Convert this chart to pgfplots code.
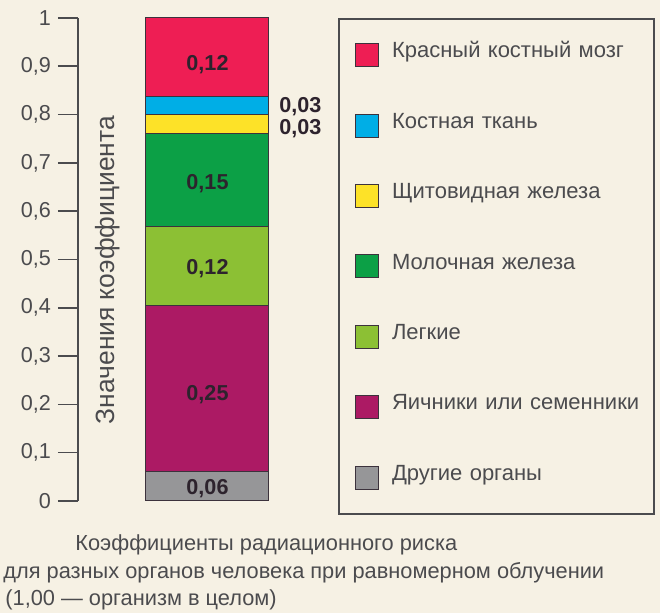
\documentclass[border=0pt]{standalone}
\usepackage{fontspec}
\setmainfont{Liberation Sans}
\usepackage{pgfplots}
\pgfplotsset{compat=1.18}

\definecolor{paper}{RGB}{246,241,228}
\definecolor{cRed}{RGB}{238,30,84}
\definecolor{cBlue}{RGB}{0,174,230}
\definecolor{cYellow}{RGB}{253,226,40}
\definecolor{cGreen}{RGB}{12,160,70}
\definecolor{cLight}{RGB}{140,192,52}
\definecolor{cPurple}{RGB}{172,26,100}
\definecolor{cGray}{RGB}{150,150,152}
\definecolor{inkc}{RGB}{75,75,78}
\definecolor{segline}{RGB}{60,50,60}
\definecolor{labc}{RGB}{45,35,45}

\tikzset{
  vlab/.style={font=\bfseries\fontsize{10.8}{12}\selectfont, text=labc, inner sep=0pt, text depth=0pt},
  capt/.style={anchor=base west, inner sep=0pt, font=\fontsize{10.9}{13}\selectfont, text=inkc},
}

\begin{document}
\begin{tikzpicture}[x=1pt,y=1pt]
\fill[paper] (0,0) rectangle (330,306.5);
\useasboundingbox (0,0) rectangle (330,306.5);
\begin{axis}[
    at={(39pt,56pt)}, anchor=south west,
    width=111pt, height=241.5pt,
    scale only axis,
    xmin=0, xmax=222,
    ymin=0, ymax=1,
    clip=false,
    axis x line=none,
    axis y line*=left,
    y axis line style={inkc, line width=0.8pt},
    ytick={0,0.1,...,1},
    tick align=outside,
    major tick length=10pt,
    ytick style={inkc, line width=0.8pt},
    yticklabel style={font=\fontsize{10.8}{12}\selectfont, text=inkc},
    /pgf/number format/use comma,
    /pgf/number format/assume math mode=true,
    ybar stacked,
    bar width=61.5pt,
    legend image code/.code={\draw[#1, draw=segline, line width=0.5pt] (0pt,-5.75pt) rectangle (11.5pt,5.75pt);},
    legend cell align=left,
    reverse legend,
    legend style={at={(1.1712,1)}, anchor=north west,
        draw=inkc, line width=1pt, fill=none,
        inner xsep=8pt, inner ysep=11pt,
        row sep=20.9pt, /tikz/column sep=6.5pt,
        nodes={font=\fontsize{11}{13}\selectfont, text=inkc, inner sep=0pt,
               text height=8.5pt, text depth=5.8pt, text width=123pt, align=left}},
  ]

  \addplot[fill=cGray, draw=segline, line width=0.5pt]   coordinates {(129.5,0.061)};
  \addlegendentry{Другие органы}
  \addplot[fill=cPurple, draw=segline, line width=0.5pt] coordinates {(129.5,0.343)};
  \addlegendentry{\mbox{Яичники или семенники}}
  \addplot[fill=cLight, draw=segline, line width=0.5pt]  coordinates {(129.5,0.165)};
  \addlegendentry{Легкие}
  \addplot[fill=cGreen, draw=segline, line width=0.5pt]  coordinates {(129.5,0.192)};
  \addlegendentry{Молочная железа}
  \addplot[fill=cYellow, draw=segline, line width=0.5pt] coordinates {(129.5,0.039)};
  \addlegendentry{Щитовидная железа}
  \addplot[fill=cBlue, draw=segline, line width=0.5pt]   coordinates {(129.5,0.038)};
  \addlegendentry{Костная ткань}
  \addplot[fill=cRed, draw=segline, line width=0.5pt]    coordinates {(129.5,0.162)};
  \addlegendentry{Красный костный мозг}

  % anchors for the printed values (drawn after the bars)
  \coordinate (v1) at (axis cs:129.5,0.029);
  \coordinate (v2) at (axis cs:129.5,0.224);
  \coordinate (v3) at (axis cs:129.5,0.484);
  \coordinate (v4) at (axis cs:129.5,0.660);
  \coordinate (v5) at (axis cs:129.5,0.907);
  \coordinate (v6) at (axis cs:201,0.819);
  \coordinate (v7) at (axis cs:201,0.775);
  \coordinate (yl) at (axis cs:30,0.478);
\end{axis}

\node[vlab] at (v1) {0,06};
\node[vlab] at (v2) {0,25};
\node[vlab] at (v3) {0,12};
\node[vlab] at (v4) {0,15};
\node[vlab] at (v5) {0,12};
\node[vlab, anchor=west] at (v6) {0,03};
\node[vlab, anchor=west] at (v7) {0,03};
\node[rotate=90, font=\fontsize{13.2}{15}\selectfont, text=inkc] at (yl) {Значения коэффициента};

\node[capt] at (37.5,31) {Коэффициенты радиационного риска};
\node[capt] at (1.5,17) {для разных органов человека при равномерном облучении};
\node[capt] at (2.5,3.5) {(1,00 — организм в целом)};
\end{tikzpicture}
\end{document}
